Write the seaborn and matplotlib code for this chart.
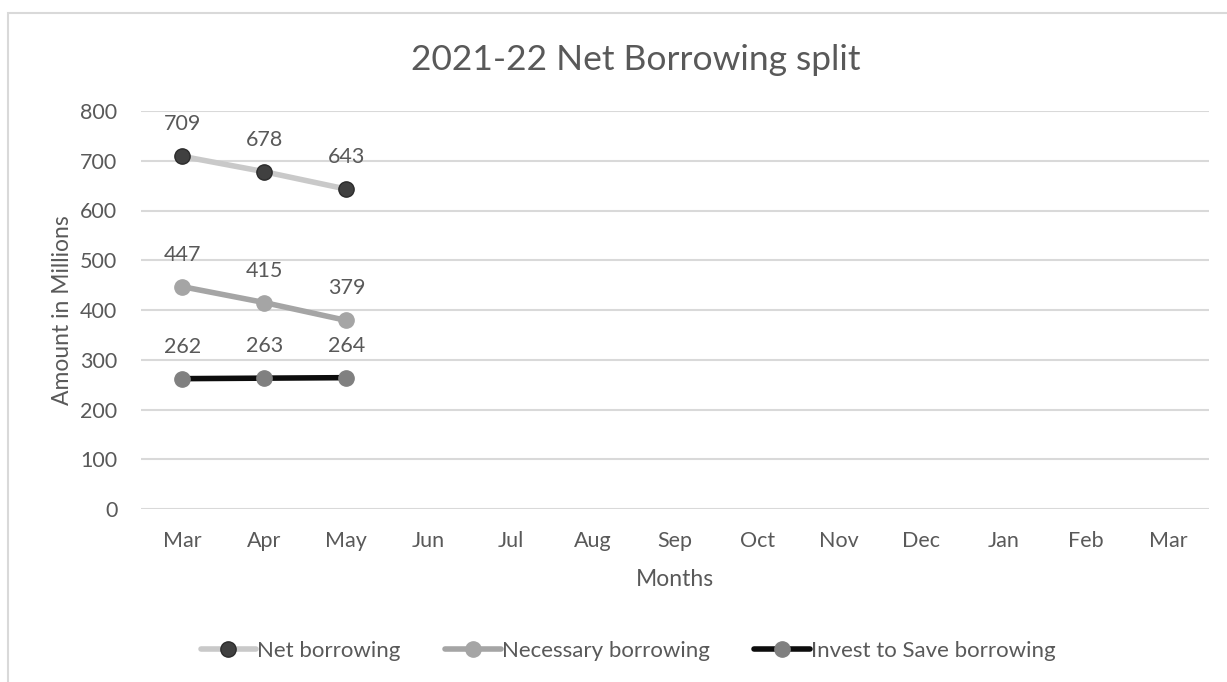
import matplotlib
matplotlib.use("Agg")
import matplotlib.pyplot as plt
import matplotlib.patches as mpatches
import seaborn as sns
import pandas as pd

# Data
months = ["Mar", "Apr", "May", "Jun", "Jul", "Aug", "Sep", "Oct", "Nov", "Dec", "Jan", "Feb", "Mar"]
net_borrowing = [709, 678, 643]
necessary_borrowing = [447, 415, 379]
invest_to_save_borrowing = [262, 263, 264]

series_names = ["Net borrowing", "Necessary borrowing", "Invest to Save borrowing"]
series_values = [net_borrowing, necessary_borrowing, invest_to_save_borrowing]
line_colors = ["#c9c9c9", "#a5a5a5", "#0d0d0d"]
marker_colors = ["#404040", "#a5a5a5", "#808080"]
marker_edges = ["#2b2b2b", "#a5a5a5", "#808080"]

sns.set_theme(style="white")
plt.rcParams["font.family"] = ["Lato", "DejaVu Sans"]
text_color = "#595959"
grid_color = "#d9d9d9"

fig = plt.figure(figsize=(12.27, 6.82), dpi=100)
ax = fig.add_axes([141 / 1227, 1 - 509 / 682, (1209 - 141) / 1227, (509 - 111) / 682])

for name, vals, lc, mc, me in zip(series_names, series_values, line_colors,
                                  marker_colors, marker_edges):
    df = pd.DataFrame({"pos": range(len(vals)), "value": vals})
    sns.lineplot(data=df, x="pos", y="value", ax=ax, color=lc, linewidth=4,
                 marker="o", markersize=11, markerfacecolor=mc,
                 markeredgecolor=me, markeredgewidth=1, label=name,
                 solid_capstyle="round", zorder=3)
    for i, v in enumerate(vals):
        ax.annotate(f"{v}", (i, v), xytext=(0, 32), textcoords="offset pixels",
                    ha="center", va="center", fontsize=15.5, color=text_color)

ax.set_xlim(-0.5, len(months) - 0.5)
ax.set_ylim(0, 800)
ax.set_xticks(range(len(months)))
ax.set_xticklabels(months)
ax.set_yticks(range(0, 801, 100))
ax.tick_params(axis="both", length=0, labelsize=15.5, labelcolor=text_color)
ax.tick_params(axis="y", pad=17)
ax.tick_params(axis="x", pad=16)
ax.grid(axis="y", color=grid_color, linewidth=1.5)
ax.grid(axis="x", visible=False)
for s in ax.spines.values():
    s.set_visible(False)

ax.set_xlabel("Months", fontsize=16.5, color=text_color, labelpad=13)
ax.set_ylabel("Amount in Millions", fontsize=16.5, color=text_color, labelpad=5)

fig.text(636 / 1227, 1 - 60 / 682, "2021-22 Net Borrowing split", ha="center", va="center",
         fontsize=25.5, color=text_color)

leg = ax.legend(loc="center", bbox_to_anchor=(628 / 1227, 1 - 651 / 682),
                bbox_transform=fig.transFigure, ncol=3, frameon=False,
                fontsize=16, handlelength=2.5, handletextpad=0.05, columnspacing=2.0,
                labelcolor=text_color)

# Chart-area border
fig.patches.append(mpatches.Rectangle((8 / 1227, -0.1), 1.2, 1 - 13 / 682 + 0.1,
                                      transform=fig.transFigure, fill=False,
                                      edgecolor=grid_color, linewidth=1.5))

fig.savefig("out.png", dpi=100)
